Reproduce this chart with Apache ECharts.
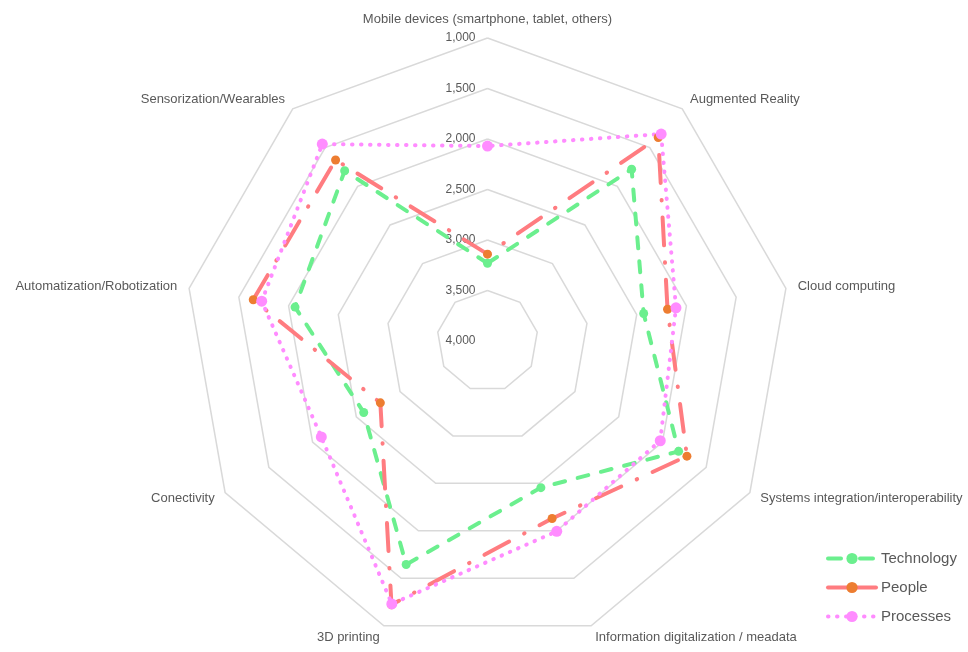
<!DOCTYPE html>
<html>
<head>
<meta charset="utf-8">
<script src="https://cdn.jsdelivr.net/npm/echarts@6/dist/echarts.min.js"></script>
<style>html,body{margin:0;padding:0;background:#fff}#c{width:968px;height:652px}</style>
</head>
<body>
<div id="c"></div>
<script>
// Categories, clockwise from the top
var categories = [
  'Mobile devices (smartphone, tablet, others)',
  'Augmented Reality',
  'Cloud computing',
  'Systems integration/interoperability',
  'Information digitalization / meadata',
  '3D printing',
  'Conectivity',
  'Automatization/Robotization',
  'Sensorization/Wearables'
];
var seriesNames = ['Technology', 'People', 'Processes'];
var technology = [3230, 1780, 2430, 1815, 2455, 1645, 2585, 2065, 1800];
var people     = [3140, 1370, 2190, 1720, 2130, 1220, 2775, 1645, 1660];
var processes  = [2070, 1325, 2105, 2025, 1995, 1230, 2100, 1730, 1455];
// axis (inverted): outer ring = 1,000, centre = 4,000
var axisOuter = 1000, axisInner = 4000, axisStep = 500;

var TXT = '#595959';
var FONT = '"Liberation Sans", Arial, sans-serif';

// ECharts radar runs counter-clockwise: reorder to get a clockwise layout
var order = [0];
for (var i = categories.length - 1; i >= 1; i--) order.push(i);
function toRadar(arr) { return order.map(function (k) { return axisInner - arr[k]; }); }

var indicator = order.map(function (k, j) {
  var ind = { name: categories[k], min: 0, max: axisInner - axisOuter };
  if (j === 0) ind.axisLabel = { show: true };
  return ind;
});

var styles = [
  { line: '#6BEF8E', marker: '#6BEF8E', type: [11, 13], legendType: [13, 19], width: 4, size: 9 },
  { line: '#FF7C80', marker: '#ED7D31', type: [28, 17, 0.5, 17], legendType: 'solid', width: 4, size: 9 },
  { line: '#FF8CFF', marker: '#FF8CFF', type: [0.5, 8.5], legendType: [0.5, 8.5], width: 4, size: 11 }
];
var values = [technology, people, processes];

var radarData = seriesNames.map(function (n, i) {
  var s = styles[i];
  return {
    name: n,
    value: toRadar(values[i]),
    symbol: 'circle',
    symbolSize: s.size,
    lineStyle: { color: s.line, width: s.width, type: s.type, cap: 'round' },
    itemStyle: { color: s.marker }
  };
});

// empty line series only to give the legend line+marker icons
var legendSeries = seriesNames.map(function (n, i) {
  var s = styles[i];
  return {
    type: 'line', name: n, data: [], xAxisIndex: 0, yAxisIndex: 0,
    symbol: 'circle', symbolSize: s.size,
    lineStyle: { color: s.line, width: s.width, type: s.legendType, cap: 'round' },
    itemStyle: { color: s.marker }
  };
});

var option = {
  animation: false,
  backgroundColor: '#fff',
  textStyle: { fontFamily: FONT },
  grid: { show: false, left: 0, top: 0, width: 1, height: 1 },
  xAxis: { show: false, type: 'value' },
  yAxis: { show: false, type: 'value' },
  legend: {
    orient: 'vertical', left: 821, top: 546,
    itemWidth: 48, itemHeight: 14, itemGap: 14,
    data: seriesNames,
    lineStyle: { width: 4, cap: 'round' },
    textStyle: { color: TXT, fontSize: 15, fontFamily: FONT }
  },
  radar: {
    center: [487.5, 341],
    radius: 303,
    startAngle: 90,
    shape: 'polygon',
    splitNumber: (axisInner - axisOuter) / axisStep,
    indicator: indicator,
    nameGap: 12,
    axisName: { color: TXT, fontSize: 13, fontFamily: FONT },
    axisLine: { show: false },
    axisTick: { show: false },
    splitArea: { show: false },
    splitLine: { lineStyle: { color: '#D9D9D9', width: 1.5 } },
    axisLabel: {
      show: false, color: TXT, fontSize: 12, fontFamily: FONT, margin: 12,
      formatter: function (v) { return (axisInner - v).toLocaleString('en-US'); }
    }
  },
  series: [{ type: 'radar', data: radarData }].concat(legendSeries)
};

echarts.init(document.getElementById('c')).setOption(option);
</script>
</body>
</html>
